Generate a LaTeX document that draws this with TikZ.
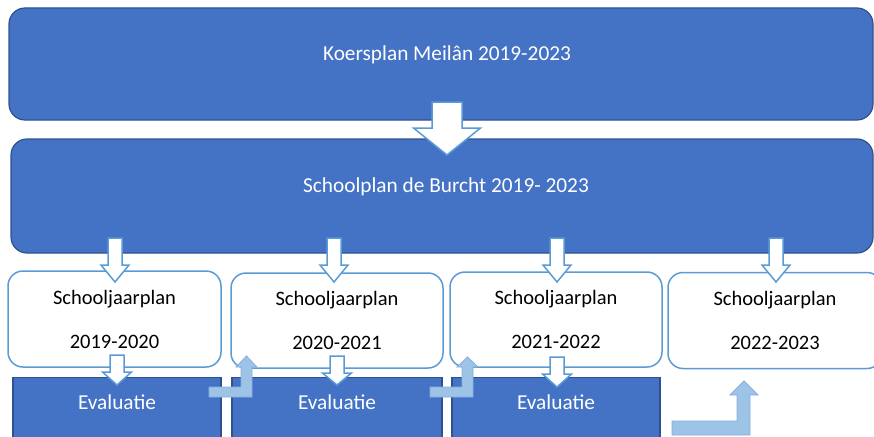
\documentclass[tikz,border=0pt]{standalone}
\usepackage{fontspec}
\setmainfont{Carlito}
\usetikzlibrary{positioning}

\definecolor{planblue}{HTML}{4472C4}
\definecolor{planedge}{HTML}{2F528F}
\definecolor{lightedge}{HTML}{5B9BD5}
\definecolor{bentfill}{HTML}{9DC3E6}
\definecolor{bentedge}{HTML}{86AEDD}

% block arrow pointing down: x, top, head base, tip, half shaft, half head
\newcommand{\downblock}[6]{%
  \draw[whitearrow] (#1-#5,#2) -- (#1+#5,#2) -- (#1+#5,#3) -- (#1+#6,#3)
    -- (#1,#4) -- (#1-#6,#3) -- (#1-#5,#3) -- cycle;}

\tikzset{
  bigbox/.style={draw=planedge, fill=planblue, line width=1.2pt, rounded corners=16pt},
  yearbox/.style={draw=lightedge, fill=white, line width=1.5pt, rounded corners=15pt,
    font=\fontsize{20.5}{44}\selectfont, align=center, text=black},
  evalbox/.style={draw=planedge, fill=planblue, line width=1.2pt},
  whitetext/.style={text=white, font=\fontsize{21.3}{25}\selectfont},
  whitearrow/.style={draw=lightedge, fill=white, line width=1.5pt, line join=miter},
  bentarrow/.style={draw=bentedge, fill=bentfill, line width=0.8pt},
}

\begin{document}
\begin{tikzpicture}[x=1pt, y=-1pt]
    \useasboundingbox (0,0) rectangle (874,436);

    % the two wide plans on top
    \node[bigbox, minimum width=864pt, minimum height=112pt] (koers) at (441,64) {};
    \node[whitetext] (koerstext) at (447,55) {Koersplan Meilân 2019-2023};
    \node[bigbox, minimum width=862pt, minimum height=114pt] (school) at (442,196) {};
    \node[whitetext] (schooltext) at (446,187) {Schoolplan de Burcht 2019- 2023};

    % one plan for every school year
    \node[yearbox, minimum width=213pt, minimum height=96pt] (sjp1) at (114.5,319) {Schooljaarplan\\2019-2020};
    \node[yearbox, minimum width=212pt, minimum height=95pt] (sjp2) at (337,320.5) {Schooljaarplan\\2020-2021};
    \node[yearbox, minimum width=212pt, minimum height=95pt] (sjp3) at (556,319.5) {Schooljaarplan\\2021-2022};
    \node[yearbox, minimum width=214pt, minimum height=96pt] (sjp4) at (775,320.5) {Schooljaarplan\\2022-2023};

    % evaluation below each year (runs off the bottom)
    \node[evalbox, minimum width=208pt, minimum height=100pt, anchor=north] (eval1) at (117,377) {};
    \node[evalbox, minimum width=210pt, minimum height=100pt, anchor=north] (eval2) at (337,377) {};
    \node[evalbox, minimum width=208pt, minimum height=100pt, anchor=north] (eval3) at (556,377) {};
    \node[whitetext] (evaltext1) at (117,402) {Evaluatie};
    \node[whitetext] (evaltext2) at (337,402) {Evaluatie};
    \node[whitetext] (evaltext3) at (556,402) {Evaluatie};

    % big arrow from koersplan to schoolplan
    \downblock{447}{102}{128}{155}{15}{33.5}

    % schoolplan into the school years
    \downblock{115}{238}{265}{282}{7}{14}
    \downblock{334}{238}{265}{282}{7}{14}
    \downblock{557}{238}{265}{282}{7}{14}
    \downblock{776}{238}{265}{282}{7}{14}

    % school years into evaluation
    \downblock{117}{355}{372}{385}{7}{14.5}
    \downblock{337}{356}{373}{385}{7}{14.5}
    \downblock{557}{357}{374}{387}{7}{14.5}

    % evaluation feeds the next year
    \draw[bentarrow] (209,387) -- (241,387) -- (241,367) -- (236,367) -- (246.5,356)
      -- (257,367) -- (252,367) -- (252,397) -- (209,397) -- cycle;
    \draw[bentarrow] (430,387) -- (462,387) -- (462,367) -- (457,367) -- (467.5,357)
      -- (478,367) -- (473,367) -- (473,397) -- (430,397) -- cycle;
    \draw[bentarrow] (672,421) -- (737,421) -- (737,395) -- (730,395) -- (744,381)
      -- (758,395) -- (750,395) -- (750,435) -- (672,435) -- cycle;

\end{tikzpicture}
\end{document}
